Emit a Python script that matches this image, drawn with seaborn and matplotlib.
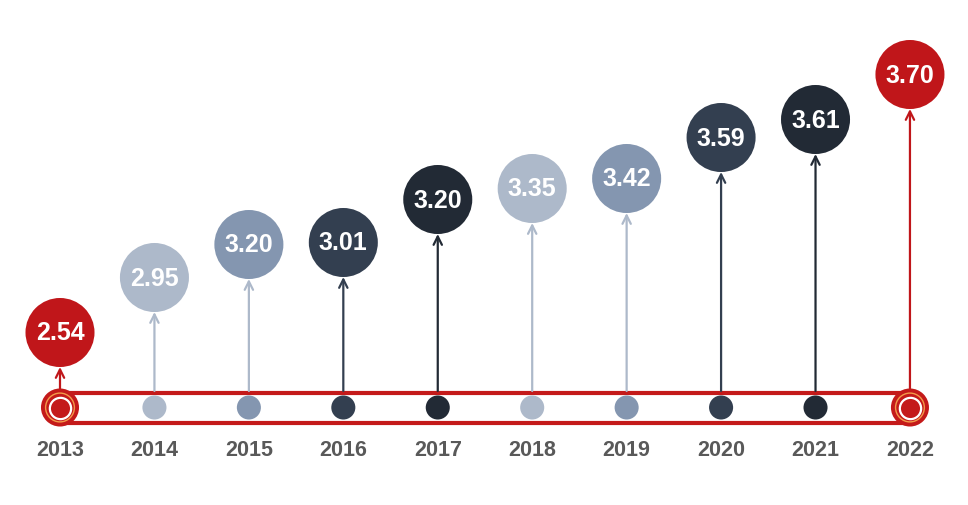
#%%
import numpy as np
import pandas as pd
import matplotlib.pyplot as plt
import seaborn as sns

#%% Data
years = [2013, 2014, 2015, 2016, 2017, 2018, 2019, 2020, 2021, 2022]
values = [2.54, 2.95, 3.20, 3.01, 3.20, 3.35, 3.42, 3.59, 3.61, 3.70]
# how high each bubble sits above the timeline
rise = [75, 130, 163, 165, 208, 219, 229, 270, 288, 333]
shade = ['red', 'light', 'mid', 'dark', 'darkest', 'light', 'mid', 'dark', 'darkest', 'red']

palette = {'red': '#C0161A', 'light': '#ADB9CA', 'mid': '#8496B0',
           'dark': '#333F50', 'darkest': '#222A35'}
# arrow colour per shade (the mid-blue bubbles get light arrows)
arrow_col = dict(palette, mid=palette['light'])
track_red = '#C41A1A'

df = pd.DataFrame({'year': years, 'value': values, 'rise': rise, 'shade': shade})
track_y = 97.5
df['bubble_y'] = track_y + df['rise']
df['track_y'] = track_y
ends = df[df['shade'] == 'red']
mids = df[df['shade'] != 'red']

#%% Plot
sns.set_theme(style='white')
plt.rcParams['font.family'] = ['Liberation Sans', 'DejaVu Sans']

fig = plt.figure(figsize=(9.68, 5.06), dpi=100)
ax = fig.add_axes([0, 0, 1, 1])
px = 94.44  # pixels per year
ax.set_xlim(2013 - 60 / px, 2013 + 908 / px)
ax.set_ylim(0, 506)
ax.axis('off')

# timeline track
ax.plot([years[0], years[-1]], [track_y + 14.5, track_y + 14.5], color=track_red, lw=3, zorder=1,
        solid_capstyle='butt')
ax.plot([years[0], years[-1]], [track_y - 15.5, track_y - 15.5], color=track_red, lw=3, zorder=1,
        solid_capstyle='butt')

# small dots on the track
sns.scatterplot(data=mids, x='year', y='track_y', hue='shade', palette=palette,
                s=300, edgecolor='none', legend=False, ax=ax, zorder=3)

# end rings
sns.scatterplot(data=ends, x='year', y='track_y', s=750, color=track_red,
                edgecolor='none', legend=False, ax=ax, zorder=3)
ax.scatter(ends['year'], ends['track_y'], s=430, facecolor='none', edgecolor='#F39A4A',
           lw=1.0, zorder=4)
ax.scatter(ends['year'], ends['track_y'], s=235, facecolor=track_red, edgecolor='white',
           lw=1.6, zorder=4)

# bubbles
R = 34.5
sns.scatterplot(data=df, x='year', y='bubble_y', hue='shade', palette=palette,
                s=2470, edgecolor='none', legend=False, ax=ax, zorder=3)

# arrows and labels
for _, r in df.iterrows():
    c = arrow_col[r['shade']]
    start = track_y + (19 if r['shade'] == 'red' else 16.5)
    ax.annotate('', xy=(r['year'], r['bubble_y'] - R), xytext=(r['year'], start),
                arrowprops=dict(arrowstyle='->', color=c, lw=1.6, shrinkA=0, shrinkB=0,
                                mutation_scale=15), zorder=2)
    ax.text(r['year'], r['bubble_y'], f"{r['value']:.2f}", ha='center', va='center',
            color='white', fontsize=18, fontweight='bold', zorder=5)
    ax.text(r['year'], 506 - 451, str(r['year']), ha='center', va='center',
            color='#595959', fontsize=15.5, fontweight='bold')

fig.savefig('out.png', dpi=100)
